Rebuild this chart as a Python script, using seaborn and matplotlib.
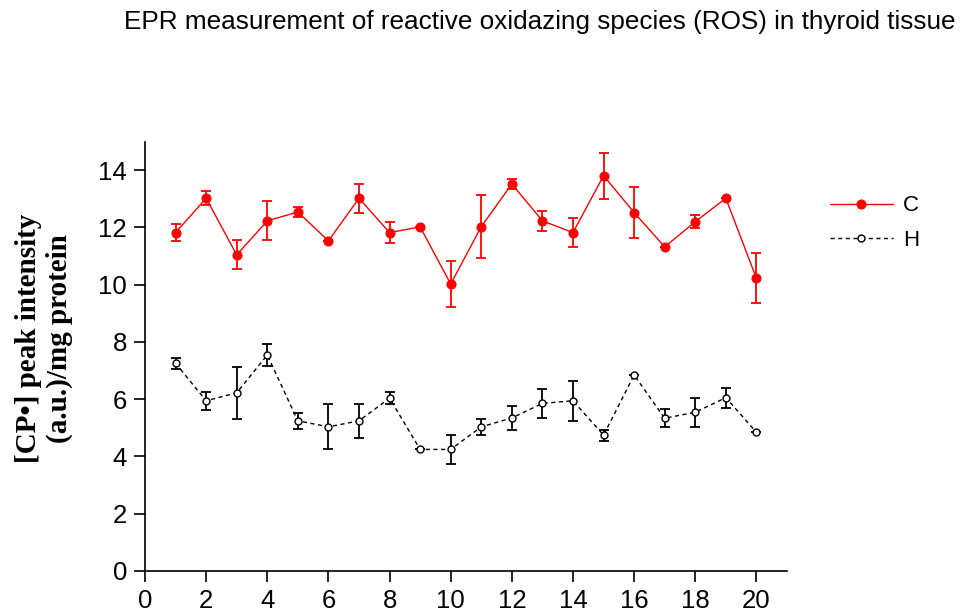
import numpy as np
import pandas as pd
import matplotlib
matplotlib.use("Agg")
import matplotlib.pyplot as plt
import seaborn as sns

# values
days = list(range(1, 21))
c_mean = [11.82, 13.02, 11.04, 12.23, 12.54, 11.53, 13.02, 11.82, 12.02, 10.02,
          12.03, 13.52, 12.23, 11.82, 13.81, 12.52, 11.32, 12.20, 13.02, 10.22]
c_err = [0.29, 0.25, 0.51, 0.68, 0.18, 0.0, 0.50, 0.38, 0.0, 0.80,
         1.10, 0.19, 0.36, 0.52, 0.80, 0.88, 0.0, 0.23, 0.0, 0.87]
h_mean = [7.25, 5.94, 6.22, 7.54, 5.24, 5.03, 5.24, 6.03, 4.24, 4.24,
          5.03, 5.34, 5.85, 5.94, 4.74, 6.84, 5.33, 5.54, 6.05, 4.84]
h_err = [0.19, 0.31, 0.90, 0.40, 0.29, 0.79, 0.60, 0.21, 0.0, 0.51,
         0.28, 0.41, 0.50, 0.70, 0.19, 0.0, 0.31, 0.51, 0.35, 0.0]

df = pd.DataFrame({"day": days, "C": c_mean, "H": h_mean})

sns.set_style("ticks")
plt.rcParams['font.family'] = ['Liberation Sans', 'DejaVu Sans']
plt.rcParams['text.color'] = 'black'

fig = plt.figure(figsize=(9.68, 6.16), dpi=100)
ax = fig.add_axes([0.1498, 0.0735, 0.6632, 0.6966])

# error bars first so the markers sit on top
ax.errorbar(days, c_mean, yerr=c_err, fmt='none', ecolor='red',
            elinewidth=1.3, capsize=3.8, capthick=1.3, zorder=2)
ax.errorbar(days, h_mean, yerr=h_err, fmt='none', ecolor='black',
            elinewidth=1.3, capsize=3.8, capthick=1.3, zorder=2)

sns.lineplot(data=df, x="day", y="C", ax=ax, color='red', lw=1.0,
             marker='o', markersize=6.5, markeredgecolor='red',
             markerfacecolor='red', zorder=3, label='C')
sns.lineplot(data=df, x="day", y="H", ax=ax, color='black', lw=1.0,
             linestyle=(0, (3, 2.5)), marker='o', markersize=5,
             markeredgecolor='black', markerfacecolor='white',
             markeredgewidth=1.0, zorder=3, label='H')

ax.set_xlim(0, 21.0)
ax.set_ylim(0, 15.0)
ax.set_xticks(range(0, 21, 2))
ax.set_yticks(range(0, 15, 2))

ax.spines['top'].set_visible(False)
ax.spines['right'].set_visible(False)
for s in ('left', 'bottom'):
    ax.spines[s].set_linewidth(1.2)
    ax.spines[s].set_color('black')
ax.tick_params(direction='out', length=8, width=1.2, labelsize=18.5,
               colors='black', labelcolor='black', pad=5)

ax.set_xlabel("")
ax.set_ylabel("")
fig.text(0.0455, 0.451, "[CP•] peak intensity\n(a.u.)/mg protein",
         rotation=90, ha='center', va='center', fontsize=21,
         fontweight='bold', family=['Liberation Serif', 'DejaVu Serif'],
         linespacing=1.2, color='black')

fig.text(0.558, 0.964, "EPR measurement of reactive oxidazing species (ROS) in thyroid tissue",
         ha='center', va='center', fontsize=18.8, color='black')

leg = ax.legend(loc='center left', bbox_to_anchor=(0.857, 0.638),
                bbox_transform=fig.transFigure, frameon=False, fontsize=16,
                handlelength=2.85, labelspacing=0.6, handletextpad=0.45,
                borderpad=0, borderaxespad=0)
for t in leg.get_texts():
    t.set_color('black')

fig.savefig("out.png", dpi=100)
